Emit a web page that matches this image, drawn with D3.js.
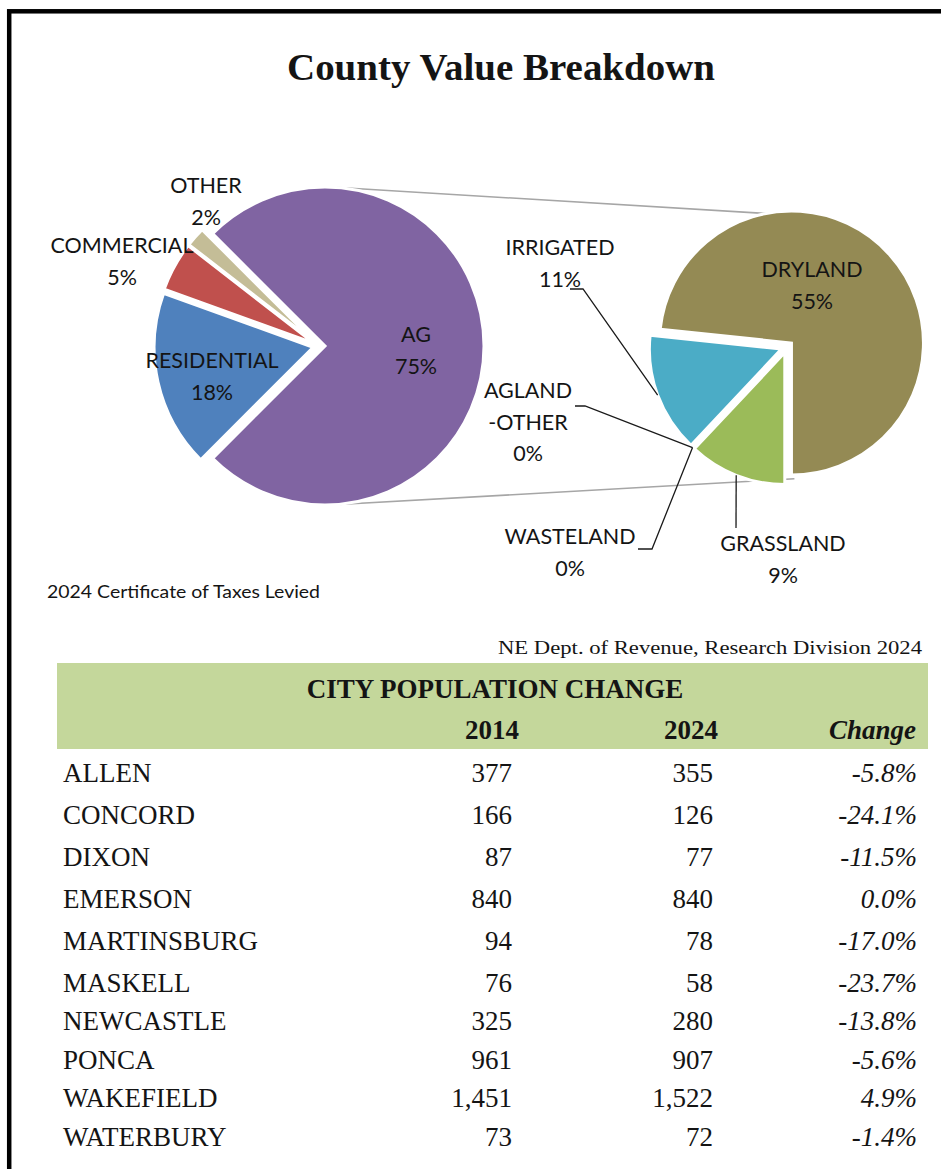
<!DOCTYPE html>
<html>
<head>
<meta charset="utf-8">
<script src="https://cdn.jsdelivr.net/npm/d3@7"></script>
<style>
  body { margin: 0; background: #fff; }
  svg text { fill: #141414; }
  .lbl { font-family: Lato, "Open Sans", sans-serif; font-size: 21.5px; }
  .serif { font-family: "Liberation Serif", serif; }
</style>
</head>
<body>
<div id="chart"></div>
<script>
// --- data ---
const countyCats = ["AG", "RESIDENTIAL", "COMMERCIAL", "OTHER"];
const countyPct = [75, 18, 5, 2];
const countyColors = ["#8064A2", "#4F81BD", "#C0504D", "#C4BD97"];

const agCats = ["DRYLAND", "GRASSLAND", "WASTELAND", "AGLAND -OTHER", "IRRIGATED"];
const agPct = [55, 9, 0, 0, 11];
const agColors = ["#948A54", "#9BBB59", "#7F7F7F", "#F79646", "#4BACC6"];

const cities = ["ALLEN", "CONCORD", "DIXON", "EMERSON", "MARTINSBURG", "MASKELL",
                "NEWCASTLE", "PONCA", "WAKEFIELD", "WATERBURY"];
const pop2014 = [377, 166, 87, 840, 94, 76, 325, 961, 1451, 73];
const pop2024 = [355, 126, 77, 840, 78, 58, 280, 907, 1522, 72];
const popChange = [-5.8, -24.1, -11.5, 0.0, -17.0, -23.7, -13.8, -5.6, 4.9, -1.4];

const W = 941, H = 1169;
const svg = d3.select("#chart").append("svg")
    .attr("width", W).attr("height", H);

// plain hyphen for negatives, like the sheet
const loc = d3.formatLocale({ decimal: ".", thousands: ",", grouping: [3], currency: ["$", ""], minus: "-" });

// frame (runs off the right / bottom of the picture)
svg.append("rect")
    .attr("x", 9.2).attr("y", 11.3)
    .attr("width", 1000).attr("height", 1300)
    .attr("fill", "none").attr("stroke", "#000").attr("stroke-width", 4.5);

svg.append("text").attr("class", "serif")
    .attr("x", 501).attr("y", 80)
    .attr("text-anchor", "middle")
    .style("font-size", "38px").style("font-weight", "bold")
    .attr("textLength", 428).attr("lengthAdjust", "spacingAndGlyphs")
    .text("County Value Breakdown");

// --- pies ---
const deg = Math.PI / 180;
const explode = 6;
const p1 = { cx: 319, cy: 346, r: 159 };
const p2 = { cx: 787, cy: 347, r: 132 };

const pie1 = d3.pie().sort(null).startAngle(-45 * deg).endAngle(315 * deg);
const pie2 = d3.pie().sort(null).startAngle(-84 * deg).endAngle(276 * deg);

const arcs1 = pie1(countyPct);
const arcs2 = pie2(agPct);

function mid(d) { return (d.startAngle + d.endAngle) / 2; }
function shift(d) { const a = mid(d); return [explode * Math.sin(a), -explode * Math.cos(a)]; }

// connector lines between the AG slice and the second pie (outer tangents)
{
  const c1x = p1.cx + explode, dx = p2.cx - c1x, dy = p2.cy - p1.cy;
  const d = Math.hypot(dx, dy);
  const base = Math.atan2(dy, dx);
  const t = Math.acos((p1.r - p2.r) / d);
  [base - t, base + t].forEach(a => {
    svg.append("line")
      .attr("x1", c1x + p1.r * Math.cos(a)).attr("y1", p1.cy + p1.r * Math.sin(a))
      .attr("x2", p2.cx + p2.r * Math.cos(a)).attr("y2", p2.cy + p2.r * Math.sin(a))
      .attr("stroke", "#a6a6a6").attr("stroke-width", 1.6);
  });
}

function drawPie(arcs, p, colors) {
  const arc = d3.arc().innerRadius(0).outerRadius(p.r);
  const g = svg.append("g").attr("transform", `translate(${p.cx},${p.cy})`);
  g.selectAll("path").data(arcs.filter(d => d.value > 0)).join("path")
    .attr("d", arc)
    .attr("transform", d => `translate(${shift(d)})`)
    .attr("fill", d => colors[d.index])
    .attr("stroke", "#fff").attr("stroke-width", 3)
    .attr("stroke-linejoin", "miter");
  return g;
}

const g1 = drawPie(arcs1, p1, countyColors);
const g2 = drawPie(arcs2, p2, agColors);

// label layout (offsets from pie centre; baseline of first line)
const lineGap = 31.5;
const lay1 = [
  { dx: 97, dy: -4 },
  { dx: -107, dy: 22 },
  { dx: -197, dy: -93 },
  { dx: -113, dy: -153 }
];
const lay2 = [
  { dx: 25, dy: -70 },
  { dx: -4, dy: 204, leader: [[-51, 181]] },
  { dx: -217, dy: 197, leader: [[-149, 202], [-135, 202]] },
  { dx: -259, dy: 51, leader: [[-212, 59], [-202, 59]] },
  { dx: -227, dy: -92, leader: [[-217, -58], [-204, -58]] }
];

function labelLines(name, v) {
  return name.split(" ").concat([loc.format(".0f")(v) + "%"]);
}

function drawLabels(g, arcs, cats, lay, p) {
  arcs.forEach((d, i) => {
    const L = lay[i];
    if (L.leader) {
      const a = mid(d), s = shift(d);
      const end = [s[0] + p.r * Math.sin(a), s[1] - p.r * Math.cos(a)];
      g.append("path")
        .attr("d", d3.line()(L.leader.concat([end])))
        .attr("fill", "none").attr("stroke", "#1a1a1a").attr("stroke-width", 1.3);
    }
    const t = g.append("text").attr("class", "lbl").attr("text-anchor", "middle");
    labelLines(cats[i], d.value).forEach((s, k) => {
      t.append("tspan").attr("x", L.dx).attr("y", L.dy + k * lineGap).text(s);
    });
  });
}
drawLabels(g1, arcs1, countyCats, lay1, p1);
drawLabels(g2, arcs2, agCats, lay2, p2);

svg.append("text").attr("class", "lbl")
    .attr("x", 47).attr("y", 598).style("font-size", "17px")
    .attr("textLength", 273).attr("lengthAdjust", "spacingAndGlyphs")
    .text("2024 Certificate of Taxes Levied");

svg.append("text").attr("class", "serif")
    .attr("x", 922).attr("y", 654).attr("text-anchor", "end")
    .style("font-size", "19px")
    .attr("textLength", 424).attr("lengthAdjust", "spacingAndGlyphs")
    .text("NE Dept. of Revenue, Research Division 2024");

// --- table ---
svg.append("rect")
    .attr("x", 57).attr("y", 663).attr("width", 871).attr("height", 86)
    .attr("fill", "#C4D79B");

svg.append("text").attr("class", "serif")
    .attr("x", 495).attr("y", 698).attr("text-anchor", "middle")
    .style("font-size", "27px").style("font-weight", "bold")
    .text("CITY POPULATION CHANGE");

const colX = { name: 63, y1: 512, y2: 713, ch: 917 };
const heads = [["2014", colX.y1 + 7, "normal"], ["2024", colX.y2 + 5, "normal"], ["Change", colX.ch - 1, "italic"]];
heads.forEach(h => {
  svg.append("text").attr("class", "serif")
    .attr("x", h[1]).attr("y", 739).attr("text-anchor", "end")
    .style("font-size", "27px").style("font-weight", "bold").style("font-style", h[2])
    .text(h[0]);
});

const rowY = d3.scaleLinear().domain([0, 5, 9]).range([781.5, 991.5, 1145.5]);
const fmt = loc.format(",");
const fmtCh = loc.format(".1f");
const rows = svg.append("g").attr("class", "serif").style("font-size", "27px");
cities.forEach((c, i) => {
  const y = rowY(i);
  rows.append("text").attr("x", colX.name).attr("y", y).text(c);
  rows.append("text").attr("x", colX.y1).attr("y", y).attr("text-anchor", "end").text(fmt(pop2014[i]));
  rows.append("text").attr("x", colX.y2).attr("y", y).attr("text-anchor", "end").text(fmt(pop2024[i]));
  rows.append("text").attr("x", colX.ch).attr("y", y).attr("text-anchor", "end")
    .style("font-style", "italic").text(fmtCh(popChange[i]) + "%");
});
</script>
</body>
</html>
